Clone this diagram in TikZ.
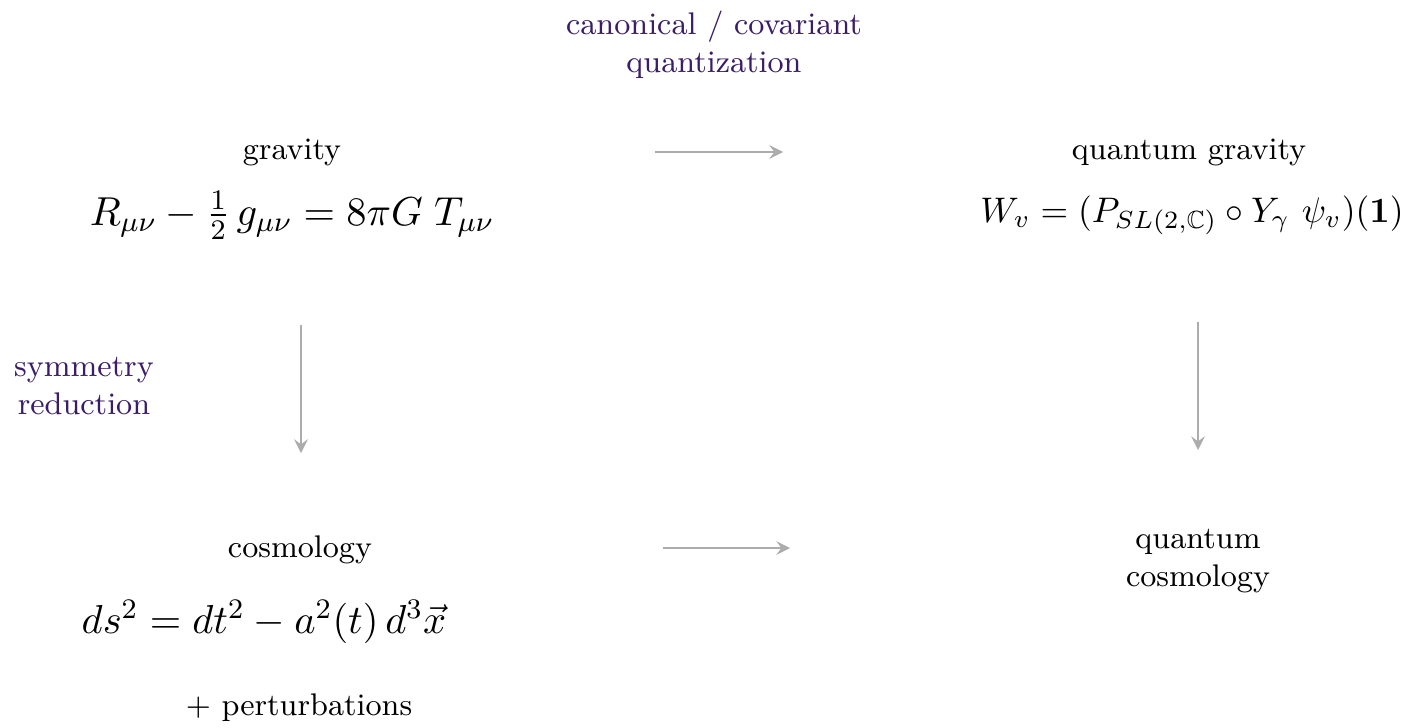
\RequirePackage{fix-cm}
\documentclass[tikz,border=0pt]{standalone}
\usepackage{amsmath,amssymb}
\definecolor{notepurple}{RGB}{58,28,104}
\definecolor{arrowgray}{RGB}{172,172,172}
\tikzset{
	maparrow/.style={->, >=stealth, arrowgray, line width=0.7pt},
	title/.style={font=\fontsize{8.9}{10.8}\selectfont, align=center},
	eqn/.style={font=\fontsize{11.5}{14}\selectfont},
	note/.style={notepurple, font=\fontsize{8.9}{10.8}\selectfont, align=center}
}
\begin{document}
\begin{tikzpicture}[x=0.01cm, y=-0.01cm]
	\useasboundingbox[fill=white] (0,0) rectangle (1401,727);
	
	% corners of the square
	\node[title] (grav) at (292,152) {gravity};
	\node[eqn] (einstein) at (292,215) {$R_{\mu\nu} - \tfrac{1}{2}\, g_{\mu\nu} = 8\pi G\; T_{\mu\nu}$};
	\node[title] (qgrav) at (1189,152) {quantum gravity};
	\node[eqn, font=\fontsize{10.1}{13}\selectfont] (ampl) at (1192,215) {$W_v = (P_{SL(2,\mathbb{C})} \circ Y_\gamma\ \psi_v)(\mathbf{1})$};
	\node[title] (cosmo) at (300,550) {cosmology};
	\node[eqn] (frw) at (264,622) {$ds^2 = dt^2 - a^2(t)\, d^3\vec{x}$};
	\node[title] (pert) at (299,708) {+ perturbations};
	\node[title] (qcosmo) at (1198,561) {quantum\\cosmology};
	
	% labels of the maps
	\node[note] (quant) at (714,45) {canonical / covariant\\quantization};
	\node[note] (symred) at (84,386) {symmetry\\reduction};
	
	% arrows
	\coordinate (topL) at (655,152);
	\coordinate (topR) at (783,152);
	\coordinate (botL) at (663,548);
	\coordinate (botR) at (790,548);
	\coordinate (leftT) at (301,325);
	\coordinate (leftB) at (301,453);
	\coordinate (rightT) at (1198,322);
	\coordinate (rightB) at (1198,450);
	\draw[maparrow] (topL) -- (topR);
	\draw[maparrow] (botL) -- (botR);
	\draw[maparrow] (leftT) -- (leftB);
	\draw[maparrow] (rightT) -- (rightB);
\end{tikzpicture}
\end{document}
